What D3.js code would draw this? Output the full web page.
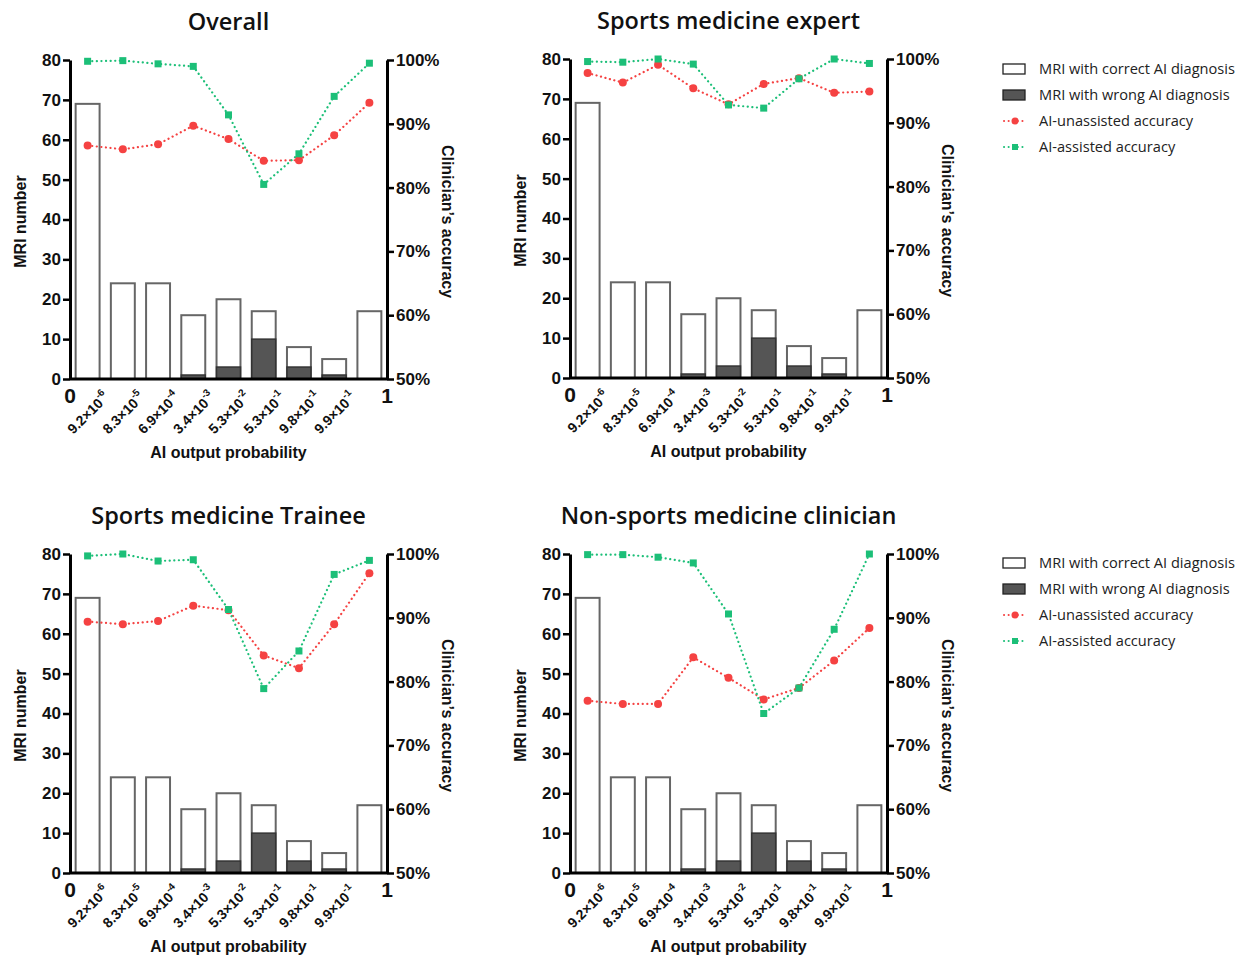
<!DOCTYPE html>
<html><head><meta charset="utf-8">
<script src="https://cdn.jsdelivr.net/npm/d3@7"></script>
<style>
body{margin:0;background:#fff;}
svg{display:block;}
</style></head>
<body>
<svg id="chart" width="1243" height="957"></svg>
<script>
// ---- data ----
const bins = ["b1","b2","b3","b4","b5","b6","b7","b8","b9"];
const boundaryLabels = [["0",""],["9.2×10","-6"],["8.3×10","-5"],["6.9×10","-4"],["3.4×10","-3"],["5.3×10","-2"],["5.3×10","-1"],["9.8×10","-1"],["9.9×10","-1"],["1",""]];
const totalMRI = [69,24,24,16,20,17,8,5,17];
const wrongMRI = [0,0,0,1,3,10,3,1,0];
const countTicks = [0,10,20,30,40,50,60,70,80];
const accTicks = [50,60,70,80,90,100];
const panelTitles = ["Overall","Sports medicine expert","Sports medicine Trainee","Non-sports medicine clinician"];
const unassisted = [
  [86.6,86.0,86.8,89.7,87.6,84.2,84.3,88.2,93.3],
  [97.8,96.3,99.1,95.4,92.9,96.1,97.0,94.7,94.9],
  [89.4,89.0,89.5,91.9,91.2,84.1,82.1,89.0,97.0],
  [77.0,76.5,76.5,83.8,80.6,77.2,79.0,83.3,88.4]
];
const assisted = [
  [99.8,99.9,99.4,99.0,91.4,80.5,85.3,94.3,99.5],
  [99.6,99.5,100,99.2,92.8,92.3,96.9,100,99.3],
  [99.7,100,98.9,99.1,91.3,78.9,84.8,96.8,99.0],
  [99.9,99.9,99.5,98.6,90.6,75.0,79.0,88.2,100]
];
const legendLabels = ["MRI with correct AI diagnosis","MRI with wrong AI diagnosis","AI-unassisted accuracy","AI-assisted accuracy"];

// ---- style ----
const RED = "#f54242", GREEN = "#1cbf78", DARK = "#555555", BARSTROKE = "#666666";
const W = 317, H = 319;
const origins = [[70,60],[570,59],[70,554],[570,554]];
const svg = d3.select("#chart");
const axisFont = "'Liberation Sans', Arial, sans-serif";

function drawPanel(p){
  const [ox, oy] = origins[p];
  const g = svg.append("g").attr("transform", `translate(${ox},${oy})`);
  const x = d3.scaleBand().domain(bins).range([0,W]).paddingInner(0.32).paddingOuter(0.16);
  const xb = d3.scalePoint().domain(d3.range(boundaryLabels.length)).range([0,W]);
  const yC = d3.scaleLinear().domain([0,80]).range([H,0]);
  const yA = d3.scaleLinear().domain([50,100]).range([H,0]);

  // bars
  const bar = g.append("g");
  bar.selectAll("rect.tot").data(bins).join("rect")
    .attr("x", d => x(d)).attr("width", x.bandwidth())
    .attr("y", (d,i) => yC(totalMRI[i])).attr("height", (d,i) => yC(0)-yC(totalMRI[i]))
    .attr("fill","#fff").attr("stroke",BARSTROKE).attr("stroke-width",2);
  bar.selectAll("rect.wr").data(bins.filter((d,i)=>wrongMRI[i]>0)).join("rect")
    .attr("x", d => x(d)).attr("width", x.bandwidth())
    .attr("y", d => yC(wrongMRI[bins.indexOf(d)])).attr("height", d => yC(0)-yC(wrongMRI[bins.indexOf(d)]))
    .attr("fill",DARK).attr("stroke","#333").attr("stroke-width",1.5);

  // axes
  const la = g.append("g").call(d3.axisLeft(yC).tickValues(countTicks).tickSize(7).tickSizeOuter(0));
  la.select(".domain").attr("stroke-width",3);
  la.selectAll(".tick line").attr("stroke-width",2.5);
  la.selectAll("text").attr("font-family",axisFont).attr("font-weight","bold").attr("font-size",17).attr("x",-9).attr("fill","#111");
  const ra = g.append("g").attr("transform",`translate(${W},0)`)
    .call(d3.axisRight(yA).tickValues(accTicks).tickSize(7).tickSizeOuter(0).tickFormat(d=>d+"%"));
  ra.select(".domain").attr("stroke-width",3);
  ra.selectAll(".tick line").attr("stroke-width",2.5);
  ra.selectAll("text").attr("font-family",axisFont).attr("font-weight","bold").attr("font-size",17).attr("x",9).attr("fill","#111");
  g.append("line").attr("x1",0).attr("x2",W).attr("y1",H).attr("y2",H).attr("stroke","#000").attr("stroke-width",3);

  // boundary labels
  boundaryLabels.forEach((lb,i)=>{
    if(lb[1]===""){
      g.append("text").attr("x", xb(i)).attr("y", H+24).attr("text-anchor","middle")
        .attr("font-family",axisFont).attr("font-weight","bold").attr("font-size",21).attr("fill","#111").text(lb[0]);
    } else {
      const t = g.append("text").attr("transform",`translate(${xb(i)+5},${H+19}) rotate(-45)`)
        .attr("text-anchor","end").attr("font-family",axisFont).attr("font-weight","bold").attr("font-size",14).attr("fill","#111");
      t.append("tspan").text(lb[0]);
      t.append("tspan").attr("dy",-7).attr("font-size",10).text(lb[1]);
    }
  });

  // lines
  const cx = (d,i) => x(bins[i]) + x.bandwidth()/2;
  const line = d3.line().x((d,i)=>cx(d,i)).y(d=>yA(d));
  g.append("path").datum(unassisted[p]).attr("d",line).attr("fill","none").attr("stroke",RED)
    .attr("stroke-width",2.2).attr("stroke-dasharray","0.1,4.5").attr("stroke-linecap","round");
  g.append("path").datum(assisted[p]).attr("d",line).attr("fill","none").attr("stroke",GREEN)
    .attr("stroke-width",2.2).attr("stroke-dasharray","0.1,4.5").attr("stroke-linecap","round");
  g.selectAll("circle.u").data(unassisted[p]).join("circle")
    .attr("cx",cx).attr("cy",d=>yA(d)).attr("r",4).attr("fill",RED);
  g.selectAll("rect.a").data(assisted[p]).join("rect")
    .attr("x",(d,i)=>cx(d,i)-3.5).attr("y",d=>yA(d)-3.5).attr("width",7).attr("height",7).attr("fill",GREEN);

  // titles
  g.append("text").attr("x",W/2).attr("y",-30).attr("text-anchor","middle")
    .attr("font-family","'Open Sans', sans-serif").attr("font-weight",600).attr("font-size",23.5).attr("fill","#111").text(panelTitles[p]);
  g.append("text").attr("transform",`translate(-44,${H/2+2}) rotate(-90)`).attr("text-anchor","middle")
    .attr("font-family",axisFont).attr("font-weight","bold").attr("font-size",16).attr("fill","#111").text("MRI number");
  g.append("text").attr("transform",`translate(${W+55},${H/2+2}) rotate(90)`).attr("text-anchor","middle")
    .attr("font-family",axisFont).attr("font-weight","bold").attr("font-size",16).attr("fill","#111").text("Clinician’s accuracy");
  g.append("text").attr("x",W/2).attr("y",H+79).attr("text-anchor","middle")
    .attr("font-family",axisFont).attr("font-weight","bold").attr("font-size",16).attr("fill","#111").text("AI output probability");
}
[0,1,2,3].forEach(drawPanel);

// legends
function drawLegend(y0){
  const g = svg.append("g").attr("transform",`translate(1002,${y0})`);
  const step = 26;
  legendLabels.forEach((lb,i)=>{
    const y = i*step;
    if(i===0) g.append("rect").attr("x",1).attr("y",y-5).attr("width",22).attr("height",10).attr("fill","#fff").attr("stroke","#222").attr("stroke-width",1.3);
    if(i===1) g.append("rect").attr("x",1).attr("y",y-5).attr("width",22).attr("height",10).attr("fill",DARK).attr("stroke","#222").attr("stroke-width",1.3);
    if(i===2){
      g.append("line").attr("x1",2).attr("x2",24).attr("y1",y).attr("y2",y).attr("stroke",RED).attr("stroke-width",2).attr("stroke-dasharray","0.1,4.5").attr("stroke-linecap","round");
      g.append("circle").attr("cx",13).attr("cy",y).attr("r",3.5).attr("fill",RED);
    }
    if(i===3){
      g.append("line").attr("x1",2).attr("x2",24).attr("y1",y).attr("y2",y).attr("stroke",GREEN).attr("stroke-width",2).attr("stroke-dasharray","0.1,4.5").attr("stroke-linecap","round");
      g.append("rect").attr("x",10).attr("y",y-3).attr("width",6).attr("height",6).attr("fill",GREEN);
    }
    g.append("text").attr("x",37).attr("y",y+5).attr("font-family","'Open Sans', sans-serif").attr("font-size",14.6).attr("fill","#222").text(lb);
  });
}
drawLegend(69);
drawLegend(563);
</script>
</body></html>
